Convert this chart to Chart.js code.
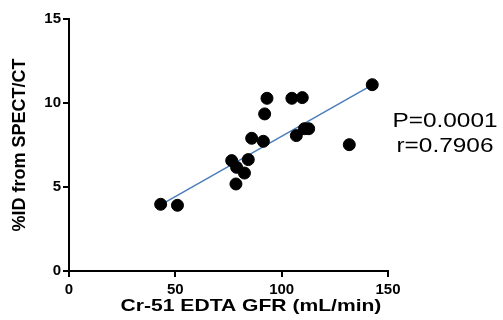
<!DOCTYPE html>
<html>
<head>
<meta charset="utf-8">
<script src="https://cdn.jsdelivr.net/npm/chart.js@4/dist/chart.umd.min.js"></script>
<style>
  html, body { margin: 0; padding: 0; background: #fff; }
  #wrap { position: relative; width: 503px; height: 320px; }
</style>
</head>
<body>
<div id="wrap"><canvas id="chart" width="503" height="320"></canvas></div>
<script>
// Cr-51 EDTA GFR (mL/min) vs %ID from SPECT/CT
const gfrValues = [43.1, 51.0, 76.5, 78.8, 78.5, 82.5, 84.3, 85.9, 91.4, 92.0, 93.1, 104.8, 109.7, 106.9, 110.7, 112.7, 131.8, 142.6];
const idValues = [3.97, 3.91, 6.57, 6.17, 5.18, 5.83, 6.63, 7.90, 7.72, 9.35, 10.28, 10.28, 10.32, 8.06, 8.47, 8.47, 7.52, 11.09];

// fitted line ends
const fitX = [42.7, 142.0];
const fitY = [3.91, 11.04];

const xTicks = [0, 50, 100, 150];
const yTicks = [0, 5, 10, 15];
const xTitle = 'Cr-51 EDTA GFR (mL/min)';
const yTitle = '%ID from SPECT/CT';
const statLines = ['P=0.0001', 'r=0.7906'];

const FONT = '"Liberation Sans", Arial, sans-serif';

// the source picture is a bit stretched sideways, so the free text is too
function wideText(ctx, text, x, y, font, stretch) {
  ctx.save();
  ctx.font = font;
  ctx.textAlign = 'center';
  ctx.textBaseline = 'middle';
  ctx.fillStyle = '#000';
  ctx.translate(x, y);
  ctx.scale(stretch, 1);
  ctx.fillText(text, 0, 0);
  ctx.restore();
}

const extraText = {
  id: 'extraText',
  afterDraw(chart) {
    const ctx = chart.ctx;
    wideText(ctx, xTitle, 251, 306, 'bold 17px ' + FONT, 1.24);
    wideText(ctx, statLines[0], 445, 121, '20px ' + FONT, 1.22);
    wideText(ctx, statLines[1], 445, 146, '20px ' + FONT, 1.22);
  },
};

const tickFont = { family: FONT, size: 15, weight: 'bold' };

new Chart(document.getElementById('chart'), {
  type: 'scatter',
  data: {
    datasets: [
      {
        data: gfrValues.map((x, i) => ({ x, y: idValues[i] })),
        backgroundColor: '#000',
        borderColor: '#000',
        pointRadius: 6,
        pointHoverRadius: 6,
        order: 0,
      },
      {
        type: 'line',
        data: fitX.map((x, i) => ({ x, y: fitY[i] })),
        borderColor: '#4a7ebb',
        borderWidth: 1.5,
        pointRadius: 0,
        fill: false,
        order: 1,
      },
    ],
  },
  options: {
    responsive: false,
    animation: false,
    layout: {
      padding: { top: 19, right: 115, left: 0, bottom: 0 },
    },
    plugins: {
      legend: { display: false },
      tooltip: { enabled: false },
    },
    scales: {
      x: {
        type: 'linear',
        min: 0,
        max: 150,
        afterBuildTicks: (scale) => {
          scale.ticks = xTicks.map((value) => ({ value }));
        },
        afterFit: (scale) => {
          scale.height = 49;
        },
        border: { color: '#000', width: 2 },
        grid: { drawOnChartArea: false, drawTicks: true, tickLength: 6, color: '#000', lineWidth: 2 },
        ticks: { color: '#000', font: tickFont, padding: 4, maxRotation: 0 },
      },
      y: {
        type: 'linear',
        min: 0,
        max: 15,
        afterBuildTicks: (scale) => {
          scale.ticks = yTicks.map((value) => ({ value }));
        },
        afterFit: (scale) => {
          scale.width = 69;
        },
        border: { color: '#000', width: 2 },
        grid: { drawOnChartArea: false, drawTicks: true, tickLength: 6, color: '#000', lineWidth: 2 },
        ticks: { color: '#000', font: tickFont, padding: 2 },
        title: {
          display: true,
          text: yTitle,
          color: '#000',
          font: { family: FONT, size: 18, weight: 'bold' },
          padding: { top: 9, bottom: 0 },
        },
      },
    },
  },
  plugins: [extraText],
});
</script>
</body>
</html>
